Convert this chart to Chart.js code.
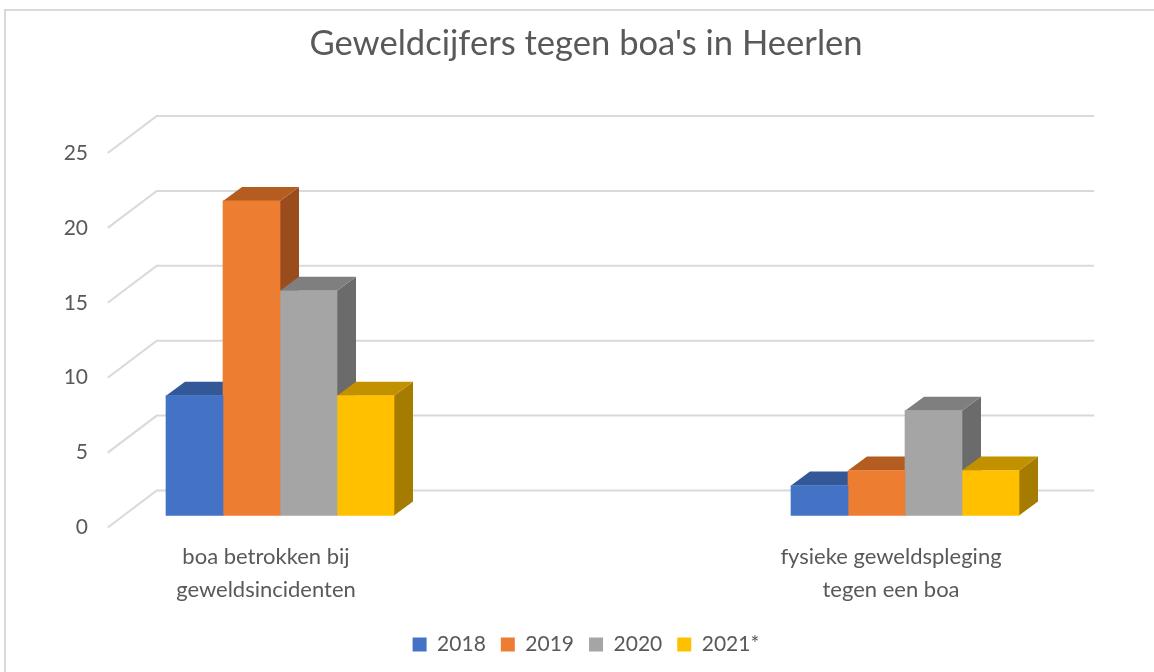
<!DOCTYPE html>
<html>
<head>
<meta charset="utf-8">
<script src="https://cdn.jsdelivr.net/npm/chart.js@4"></script>
<style>
  body { margin: 0; background: #fff; }
</style>
</head>
<body>
<canvas id="boa-chart" width="1154" height="672"></canvas>
<script>
const categories = [['boa betrokken bij', 'geweldsincidenten'], ['fysieke geweldspleging', 'tegen een boa']];
const years = ['2018', '2019', '2020', '2021*'];
const values2018 = [8, 2];
const values2019 = [21, 3];
const values2020 = [15, 7];
const values2021 = [8, 3];
const seriesColors = ['#4472c4', '#ed7d31', '#a5a5a5', '#ffc000'];
const topColors = ['#335898', '#b55d21', '#7f7f7f', '#c29100'];
const sideColors = ['#2a487c', '#9a4c1c', '#6b6b6b', '#a67c00'];

// 3d offsets, in px
const BAR_DX = 19, BAR_DY = -14;
const WALL_DX = 33, WALL_DY = -25;
const SIDE_DX = -49, SIDE_DY = 37;

const textColor = '#595959';

const depth3d = {
    id: 'depth3d',
    beforeDraw(chart) {
        var ctx = chart.ctx;
        ctx.save();
        ctx.fillStyle = '#fff';
        ctx.fillRect(0, 0, chart.width, chart.height);
        ctx.strokeStyle = '#d9d9d9';
        ctx.lineWidth = 2;
        ctx.strokeRect(5, 10, 1200, 700);
        ctx.restore();
    },
    beforeDatasetsDraw(chart) {
        var ctx = chart.ctx;
        var x = chart.scales.x, y = chart.scales.y;
        ctx.save();

        // back wall + side grid
        ctx.strokeStyle = '#d9d9d9';
        ctx.lineWidth = 2;
        var x0 = x.getPixelForValue(-0.25) + WALL_DX;
        var x1 = x.getPixelForValue(1.25) + WALL_DX;
        y.ticks.forEach(function (t) {
            var yb = y.getPixelForValue(t.value) + WALL_DY;
            ctx.beginPath();
            ctx.moveTo(x0 + SIDE_DX, yb + SIDE_DY);
            ctx.lineTo(x0, yb);
            ctx.lineTo(x1, yb);
            ctx.stroke();
        });

        // top and side faces, left to right
        categories.forEach(function (c, i) {
            chart.data.datasets.forEach(function (ds, d) {
                var bar = chart.getDatasetMeta(d).data[i];
                var l = bar.x - bar.width / 2, r = bar.x + bar.width / 2;
                var top = bar.y, base = bar.base;

                ctx.fillStyle = sideColors[d];
                ctx.beginPath();
                ctx.moveTo(r, top);
                ctx.lineTo(r + BAR_DX, top + BAR_DY);
                ctx.lineTo(r + BAR_DX, base + BAR_DY);
                ctx.lineTo(r, base);
                ctx.closePath();
                ctx.fill();

                ctx.fillStyle = topColors[d];
                ctx.beginPath();
                ctx.moveTo(l, top);
                ctx.lineTo(r, top);
                ctx.lineTo(r + BAR_DX, top + BAR_DY);
                ctx.lineTo(l + BAR_DX, top + BAR_DY);
                ctx.closePath();
                ctx.fill();
            });
        });
        ctx.restore();
    }
};

const seriesValues = [values2018, values2019, values2020, values2021];

var config = {
    type: 'bar',
    data: {
        labels: categories,
        datasets: years.map(function (year, i) {
            return {
                label: year,
                data: seriesValues[i],
                backgroundColor: seriesColors[i],
                borderWidth: 0,
                barThickness: 57,
                clip: false
            };
        })
    },
    options: {
        responsive: false,
        animation: false,
        layout: {
            padding: {left: 18, top: 0, right: 0, bottom: 7}
        },
        plugins: {
            title: {
                display: true,
                text: "Geweldcijfers tegen boa's in Heerlen",
                color: textColor,
                font: {family: 'Lato', size: 34.6, weight: 'normal', lineHeight: 1.2},
                padding: {top: 23.2, bottom: 76.3}
            },
            legend: {
                position: 'bottom',
                labels: {
                    color: textColor,
                    font: {family: 'Lato', size: 21},
                    boxWidth: 14,
                    boxHeight: 14,
                    padding: 15
                }
            },
            tooltip: {enabled: false}
        },
        scales: {
            x: {
                offset: false,
                grid: {display: false, drawTicks: false},
                border: {display: false},
                ticks: {
                    color: textColor,
                    font: {family: 'Lato', size: 22, lineHeight: 1.5},
                    padding: 25,
                    labelOffset: -14,
                    maxRotation: 0,
                    autoSkip: false
                },
                afterFit: function (scale) {
                    scale.height = 103.5;
                    scale.paddingLeft = 0;
                    scale.paddingRight = 0;
                }
            },
            y: {
                min: 0,
                max: 25,
                grid: {display: false, drawTicks: false},
                border: {display: false},
                ticks: {
                    stepSize: 5,
                    color: textColor,
                    font: {family: 'Lato', size: 21},
                    padding: 192,
                    labelOffset: 12
                },
                afterFit: function (scale) {
                    scale.width = 262;
                    scale.paddingTop = 0;
                    scale.paddingBottom = 0;
                }
            },
            // empty right axis, only reserves room so the second category sits where it should
            yRight: {
                position: 'right',
                min: 0,
                max: 25,
                grid: {display: false, drawTicks: false},
                border: {display: false},
                ticks: {display: false},
                afterFit: function (scale) {
                    scale.width = 249;
                    scale.paddingTop = 0;
                    scale.paddingBottom = 0;
                }
            }
        }
    },
    plugins: [depth3d]
};

var ctx = document.getElementById('boa-chart').getContext('2d');
window.boaChart = new Chart(ctx, config);
</script>
</body>
</html>
